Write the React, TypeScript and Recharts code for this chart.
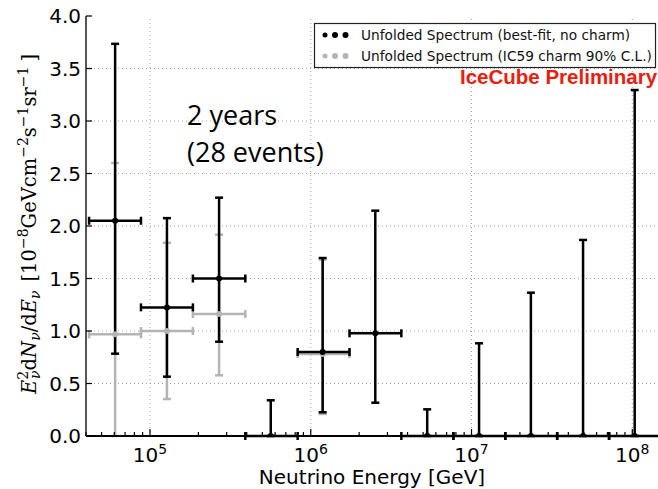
import React from 'react';
import { ScatterChart, Scatter, XAxis, YAxis, ErrorBar, ReferenceLine } from 'recharts';

// energy bins [GeV]
const binLow = [41800, 87900, 184900, 391700, 829000, 1742000, 3660000, 7710000, 16220000, 34100000, 71700000];
const binHigh = [87900, 184900, 391700, 829000, 1742000, 3660000, 7710000, 16220000, 34100000, 71700000, 151000000];
const binCenter = [60700, 127500, 269000, 564000, 1186000, 2520000, 5300000, 11140000, 23400000, 49400000, 103500000];

// best-fit, no charm
const fitValue = [2.05, 1.225, 1.5, 0, 0.8, 0.978, 0, 0, 0, 0, 0];
const fitUpper = [3.735, 2.075, 2.27, 0.34, 1.695, 2.146, 0.254, 0.883, 1.365, 1.867, 3.295];
const fitLower = [0.784, 0.565, 0.898, 0, 0.226, 0.317, 0, 0, 0, 0, 0];

// IC59 charm 90% C.L.
const charmBin = [0, 1, 2, 4];
const charmValue = [0.968, 1.0, 1.162, 0.78];
const charmUpper = [2.6, 1.84, 1.917, 1.68];
const charmLower = [0, 0.352, 0.578, 0.21];

const xMajor = [1e5, 1e6, 1e7, 1e8];
const xMajorExp = ['5', '6', '7', '8'];
const xMinorMult = [2, 3, 4, 5, 6, 7, 8, 9];
const yTicks = [0, 0.5, 1, 1.5, 2, 2.5, 3, 3.5, 4];
const yGrid = [0.5, 1, 1.5, 2, 2.5, 3, 3.5];

const xDomain = [40000, 144500000];
const xTicks: number[] = [4e4, 5e4, 6e4, 7e4, 8e4, 9e4];
[1e5, 1e6, 1e7].forEach(d => xMinorMult.forEach(m => xTicks.push(d * m)));
xTicks.push(...xMajor);

const fitRows = binCenter.map((x, i) => ({
  x,
  y: fitValue[i],
  ex: [x - binLow[i], binHigh[i] - x],
  ey: [fitValue[i] - fitLower[i], fitUpper[i] - fitValue[i]],
}));

const charmRows = charmBin.map((b, i) => ({
  x: binCenter[b],
  y: charmValue[i],
  ex: [binCenter[b] - binLow[b], binHigh[b] - binCenter[b]],
  ey: [charmValue[i] - charmLower[i], charmUpper[i] - charmValue[i]],
}));

const BLACK = '#000';
const GRAY = '#b4b4b4';

const BottomTick = (props: any) => {
  const { x, y, payload } = props;
  const i = xMajor.indexOf(payload.value);
  const len = i >= 0 ? 7 : 4;
  return (
    <g>
      <line x1={x} x2={x} y1={y} y2={y - len} stroke="#000" strokeWidth={1.2} />
      {i >= 0 && (
        <text x={x} y={y + 26} textAnchor="middle" fontFamily="DejaVu Sans" fontSize={20} fill="#000">
          10<tspan fontSize={14} dy={-8}>{xMajorExp[i]}</tspan>
        </text>
      )}
    </g>
  );
};

const TopTick = (props: any) => {
  const { x, y, payload } = props;
  const len = xMajor.indexOf(payload.value) >= 0 ? 7 : 4;
  return <line x1={x} x2={x} y1={y} y2={y + len} stroke="#000" strokeWidth={1.2} />;
};

const LeftTick = (props: any) => {
  const { x, y, payload } = props;
  return (
    <g>
      <line x1={x} x2={x + 6} y1={y} y2={y} stroke="#000" strokeWidth={1.2} />
      <text x={x - 5} y={y + 7} textAnchor="end" fontFamily="DejaVu Sans" fontSize={20} fill="#000">
        {payload.value.toFixed(1)}
      </text>
    </g>
  );
};

const dot = (color: string) => (p: any) => <circle cx={p.cx} cy={p.cy} r={3} fill={color} />;

export default function App() {
  const sub = 14;
  return (
    <div style={{ position: 'absolute', left: 0, top: 0, width: 658, height: 489, background: '#fff', overflow: 'hidden' }}>
      <ScatterChart width={658} height={489} margin={{ top: 16, right: 0, bottom: 0, left: 0 }}>
        <XAxis
          dataKey="x"
          type="number"
          scale="log"
          domain={xDomain}
          allowDataOverflow
          ticks={xTicks}
          interval={0}
          height={53}
          tickSize={0}
          tickMargin={0}
          tickLine={false}
          tick={<BottomTick />}
          axisLine={{ stroke: '#000', strokeWidth: 2 }}
        />
        <XAxis
          xAxisId="top"
          orientation="top"
          dataKey="x"
          type="number"
          scale="log"
          domain={xDomain}
          allowDataOverflow
          ticks={xTicks}
          interval={0}
          height={0}
          tickSize={0}
          tickMargin={0}
          tickLine={false}
          tick={<TopTick />}
          axisLine={{ stroke: '#222', strokeWidth: 2 }}
        />
        <YAxis
          dataKey="y"
          type="number"
          domain={[0, 4]}
          allowDataOverflow
          ticks={yTicks}
          interval={0}
          width={86}
          tickSize={0}
          tickMargin={0}
          tickLine={false}
          tick={<LeftTick />}
          axisLine={{ stroke: '#555', strokeWidth: 2 }}
        />
        {yGrid.map(v => (
          <ReferenceLine key={'y' + v} y={v} stroke="#a0a0a0" strokeDasharray="1 3" strokeWidth={1} />
        ))}
        {xMajor.map(v => (
          <ReferenceLine key={'x' + v} x={v} stroke="#a0a0a0" strokeDasharray="1 3" strokeWidth={1} />
        ))}
        <Scatter data={charmRows} fill={GRAY} shape={dot(GRAY)} isAnimationActive={false}>
          <ErrorBar dataKey="ey" direction="y" width={4} stroke={GRAY} strokeWidth={2.5} />
          <ErrorBar dataKey="ex" direction="x" width={4} stroke={GRAY} strokeWidth={2.5} />
        </Scatter>
        <Scatter data={fitRows} fill={BLACK} shape={dot(BLACK)} isAnimationActive={false}>
          <ErrorBar dataKey="ey" direction="y" width={4} stroke={BLACK} strokeWidth={2.5} />
          <ErrorBar dataKey="ex" direction="x" width={4} stroke={BLACK} strokeWidth={2.5} />
        </Scatter>
      </ScatterChart>
      <svg width={658} height={489} style={{ position: 'absolute', left: 0, top: 0, pointerEvents: 'none' }}>
        <text transform="translate(36,224) rotate(-90)" textAnchor="middle" fontFamily="DejaVu Serif" fontSize={19.5} fill="#000">
          <tspan fontStyle="italic">E</tspan>
          <tspan fontSize={sub} dy={-8}>2</tspan>
          <tspan fontSize={sub} fontStyle="italic" dx={-8} dy={12}>ν</tspan>
          <tspan dy={-4}>d</tspan>
          <tspan fontStyle="italic">N</tspan>
          <tspan fontSize={sub} fontStyle="italic" dy={4}>ν</tspan>
          <tspan dy={-4}>/d</tspan>
          <tspan fontStyle="italic">E</tspan>
          <tspan fontSize={sub} fontStyle="italic" dy={4}>ν</tspan>
          <tspan dx={9} dy={-4}>[10</tspan>
          <tspan fontSize={sub} dy={-8}>−8</tspan>
          <tspan dy={8}>GeVcm</tspan>
          <tspan fontSize={sub} dy={-8}>−2</tspan>
          <tspan dy={8}>s</tspan>
          <tspan fontSize={sub} dy={-8}>−1</tspan>
          <tspan dy={8}>sr</tspan>
          <tspan fontSize={sub} dy={-8}>−1</tspan>
          <tspan dx={5} dy={8}>]</tspan>
        </text>
        <text x={372} y={484} textAnchor="middle" fontFamily="DejaVu Sans" fontSize={20} fill="#000">
          Neutrino Energy [GeV]
        </text>
        <text x={187} y={125} fontFamily="Open Sans" fontSize={27} fill="#000">2 years</text>
        <text x={187} y={162} fontFamily="Open Sans" fontSize={27} fill="#000">(28 events)</text>
        <rect x={314.5} y={23.5} width={341} height={44} fill="#fff" stroke="#222" strokeWidth={1.2} />
        <circle cx={325} cy={35} r={2.5} fill={BLACK} />
        <circle cx={335} cy={35} r={3} fill={BLACK} />
        <circle cx={345.5} cy={35} r={3} fill={BLACK} />
        <circle cx={325} cy={56} r={2.5} fill={GRAY} />
        <circle cx={335} cy={56} r={3} fill={GRAY} />
        <circle cx={345.5} cy={56} r={3} fill={GRAY} />
        <text x={361} y={40} fontFamily="DejaVu Sans" fontSize={13.7} fill="#111">Unfolded Spectrum (best-fit, no charm)</text>
        <text x={361} y={61} fontFamily="DejaVu Sans" fontSize={13.7} fill="#111">Unfolded Spectrum (IC59 charm 90% C.L.)</text>
        <text x={460} y={84} fontFamily="Liberation Sans" fontWeight="bold" fontSize={20.5} fill="#e8200e">IceCube Preliminary</text>
      </svg>
    </div>
  );
}
